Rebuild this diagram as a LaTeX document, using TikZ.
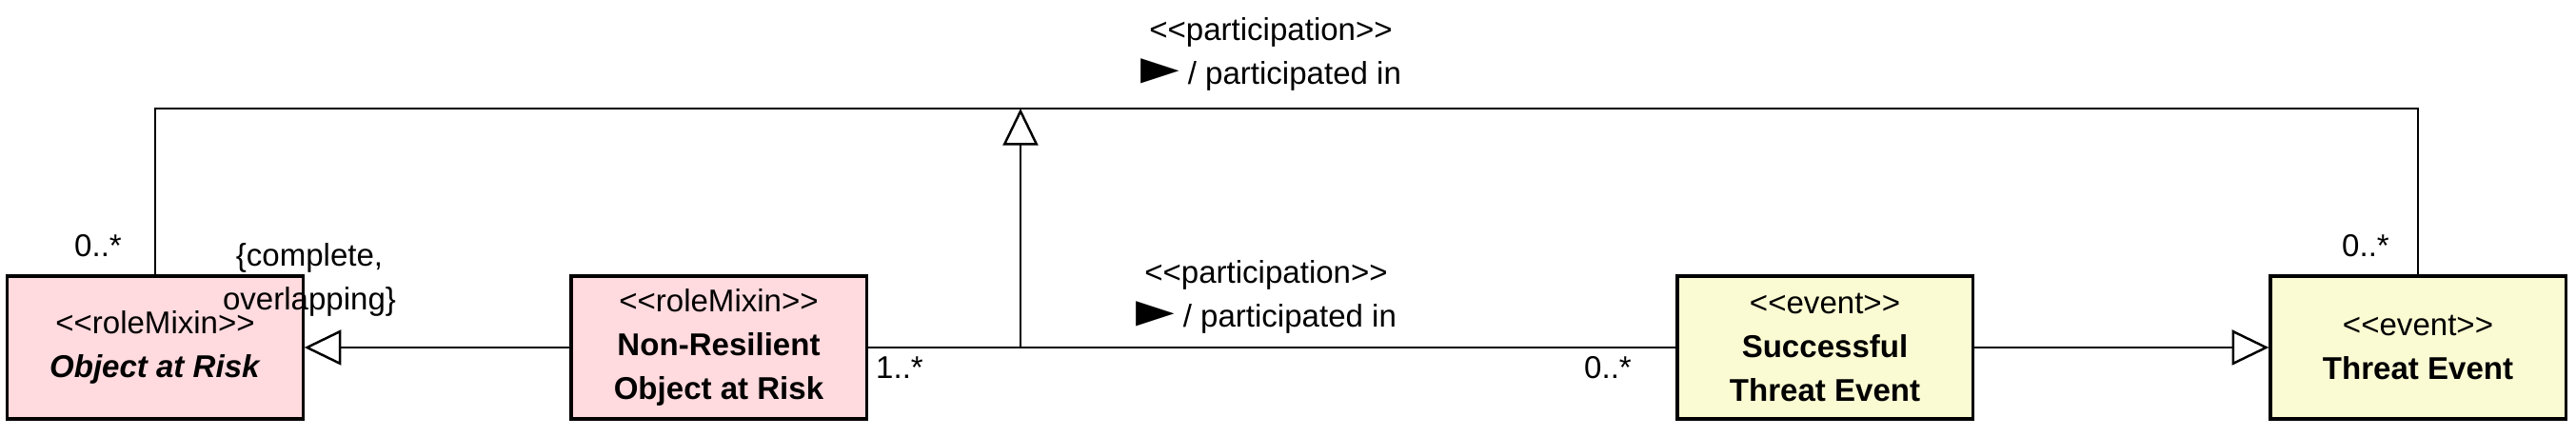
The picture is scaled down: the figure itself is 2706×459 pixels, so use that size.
\documentclass[tikz,border=0pt]{standalone}
\usepackage{fontspec}
\setmainfont{Liberation Sans}[Ligatures=TeXOff]
\newfontfamily\symfont{DejaVu Sans}
\usetikzlibrary{arrows.meta}
\tikzset{
	umlclass/.style={draw, line width=0.9pt, minimum width=3.1cm, minimum height=1.5cm, align=center, inner sep=2pt},
	assoc/.style={line width=0.7pt},
	gen/.style={line width=0.7pt, -{Triangle[open, length=11pt, width=10.5pt, fill=white]}},
}
\newcommand{\readdir}{{\symfont\fontsize{15}{15}\selectfont ►}}
\begin{document}
\begin{tikzpicture}[x=0.01cm, y=-0.01cm, font=\fontsize{9.4}{13}\selectfont]
			\definecolor{rolepink}{RGB}{255, 218, 222}
			\definecolor{eventyellow}{RGB}{251, 251, 211}
			\useasboundingbox (0,0) rectangle (2706,459);
			\node[umlclass, fill=rolepink] (oar) at (163,365) {<<roleMixin>>\\\textbf{\textit{Object at Risk}}};
			\node[umlclass, fill=rolepink] (nr) at (755,365) {<<roleMixin>>\\\textbf{Non-Resilient}\\\textbf{Object at Risk}};
			\node[umlclass, fill=eventyellow] (ste) at (1917,365) {<<event>>\\\textbf{Successful}\\\textbf{Threat Event}};
			\node[umlclass, fill=eventyellow] (te) at (2540,365) {<<event>>\\\textbf{Threat Event}};
			\coordinate (join) at (1072,365);
			\coordinate (topjoin) at (1072,114);
			\draw[assoc] (oar.north) |- (topjoin) -| (te.north);
			\draw[assoc] (nr.east) -- (ste.west);
			\draw[gen] (join) -- (topjoin);  % participation generalization
			\draw[gen] (nr.west) -- (oar.east);
			\draw[gen] (ste.east) -- (te.west);
			\node[align=center] (toplabel) at (1335,57) {<<participation>>\\\readdir{} / participated in};
			\node[align=center] (midlabel) at (1330,312) {<<participation>>\\\readdir{} / participated in};
			\node[align=center] (constraint) at (325,294) {\{complete,\\overlapping\}};
			\node (multa) at (103,258) {0..*};
			\node (multb) at (2485,258) {0..*};
			\node (multc) at (945,386) {1..*};
			\node (multd) at (1689,386) {0..*};
		\end{tikzpicture}
\end{document}
